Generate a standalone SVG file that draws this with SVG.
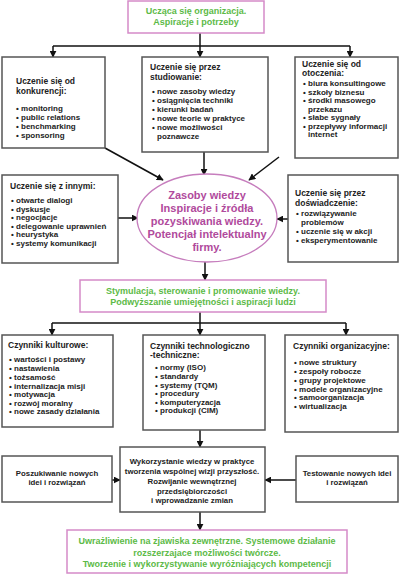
<svg xmlns="http://www.w3.org/2000/svg" width="400" height="575" viewBox="0 0 400 575">
<defs>
<marker id="ah" viewBox="0 0 10 10" refX="9" refY="5" markerWidth="7" markerHeight="7" markerUnits="userSpaceOnUse" orient="auto"><path d="M0,0 L10,5 L0,10 Z" fill="#111"/></marker>
<style>
.box{fill:#fff;stroke:#555;stroke-width:1.5}
.pbox{fill:#fff;stroke:#d58ac8;stroke-width:1.5}
text{font-family:"Liberation Sans",Arial,sans-serif;font-weight:bold}
.g{fill:#5cba47;font-size:9px;text-anchor:middle}
.h{fill:#222;font-size:8.5px}
.i{fill:#222;font-size:8px}
.c{fill:#222;font-size:7.8px;text-anchor:middle}
.p{fill:#b04a9c;font-size:11px;text-anchor:middle}
.ln{stroke:#111;stroke-width:1.5;fill:none}
</style>
</defs>
<rect width="400" height="575" fill="#fff"/>
<g id="connectors">
<path class="ln" d="M200,33 V46"/>
<path class="ln" d="M53,46 H350"/>
<path class="ln" d="M53,46 V57" marker-end="url(#ah)"/>
<path class="ln" d="M200,46 V57" marker-end="url(#ah)"/>
<path class="ln" d="M350,46 V57" marker-end="url(#ah)"/>
<path class="ln" d="M105,148 L163,180" marker-end="url(#ah)"/>
<path class="ln" d="M204,152 V175" marker-end="url(#ah)"/>
<path class="ln" d="M279,157 L249,180" marker-end="url(#ah)"/>
<path class="ln" d="M118,218 H138" marker-end="url(#ah)"/>
<path class="ln" d="M288,219 H277" marker-end="url(#ah)"/>
<path class="ln" d="M205,262 V280" marker-end="url(#ah)"/>
<path class="ln" d="M200,312 V323"/>
<path class="ln" d="M52,323 H346"/>
<path class="ln" d="M52,323 V335" marker-end="url(#ah)"/>
<path class="ln" d="M200,323 V335" marker-end="url(#ah)"/>
<path class="ln" d="M346,323 V335" marker-end="url(#ah)"/>
<path class="ln" d="M200,430 V447" marker-end="url(#ah)"/>
<path class="ln" d="M112,480 H120" marker-end="url(#ah)"/>
<path class="ln" d="M296,480 H265" marker-end="url(#ah)"/>
<path class="ln" d="M200,512 V530" marker-end="url(#ah)"/>
</g>
<g id="top">
<rect class="pbox" x="128" y="1" width="136" height="32"/>
<text class="g" x="196" y="14">Ucząca się organizacja.</text>
<text class="g" x="196" y="25">Aspiracje i potrzeby</text>
</g>
<g id="konkurencja">
<rect class="box" x="2" y="57" width="103" height="91"/>
<text class="h" x="16" y="84">Uczenie się od</text>
<text class="h" x="16" y="94">konkurencji:</text>
<text class="i" x="16" y="111">• monitoring</text>
<text class="i" x="16" y="120">• public relations</text>
<text class="i" x="16" y="129">• benchmarking</text>
<text class="i" x="16" y="138">• sponsoring</text>
</g>
<g id="studiowanie">
<rect class="box" x="142" y="57" width="126" height="95"/>
<text class="h" x="150" y="70">Uczenie się przez</text>
<text class="h" x="150" y="80">studiowanie:</text>
<text class="i" x="152" y="94">• nowe zasoby wiedzy</text>
<text class="i" x="152" y="103">• osiągnięcia techniki</text>
<text class="i" x="152" y="112">• kierunki badań</text>
<text class="i" x="152" y="121">• nowe teorie w praktyce</text>
<text class="i" x="152" y="130">• nowe możliwości</text>
<text class="i" x="157" y="139">poznawcze</text>
</g>
<g id="otoczenie">
<rect class="box" x="295" y="57" width="103" height="101"/>
<text class="h" x="302" y="67">Uczenie się od</text>
<text class="h" x="302" y="76">otoczenia:</text>
<text class="i" x="303" y="86">• biura konsultingowe</text>
<text class="i" x="303" y="94.5">• szkoły biznesu</text>
<text class="i" x="303" y="103">• środki masowego</text>
<text class="i" x="308" y="111.5">przekazu</text>
<text class="i" x="303" y="120">• słabe sygnały</text>
<text class="i" x="303" y="128.5">• przepływy informacji</text>
<text class="i" x="308" y="137">internet</text>
</g>
<g id="inni">
<rect class="box" x="2" y="175" width="116" height="88"/>
<text class="h" x="10" y="189">Uczenie się z innymi:</text>
<text class="i" x="11" y="203">• otwarte dialogi</text>
<text class="i" x="11" y="211.5">• dyskusje</text>
<text class="i" x="11" y="220">• negocjacje</text>
<text class="i" x="11" y="228.5">• delegowanie uprawnień</text>
<text class="i" x="11" y="237">• heurystyka</text>
<text class="i" x="11" y="245.5">• systemy komunikacji</text>
</g>
<g id="zasoby">
<ellipse cx="207" cy="218" rx="70" ry="44" fill="#fff" stroke="#c67dbd" stroke-width="1.3"/>
<text class="p" x="207" y="199">Zasoby wiedzy</text>
<text class="p" x="207" y="212">Inspiracje i źródła</text>
<text class="p" x="207" y="225">pozyskiwania wiedzy.</text>
<text class="p" x="207" y="238">Potencjał intelektualny</text>
<text class="p" x="207" y="251">firmy.</text>
</g>
<g id="doswiadczenie">
<rect class="box" x="288" y="175" width="110" height="87"/>
<text class="h" x="295" y="196">Uczenie się przez</text>
<text class="h" x="295" y="206">doświadczenie:</text>
<text class="i" x="296" y="216">• rozwiązywanie</text>
<text class="i" x="301" y="225">problemów</text>
<text class="i" x="296" y="234">• uczenie się w akcji</text>
<text class="i" x="296" y="243">• eksperymentowanie</text>
</g>
<g id="stymulacja">
<rect class="pbox" x="80" y="280" width="246" height="32"/>
<text class="g" x="203" y="294">Stymulacja, sterowanie i promowanie wiedzy.</text>
<text class="g" x="203" y="305">Podwyższanie umiejętności i aspiracji ludzi</text>
</g>
<g id="kulturowe">
<rect class="box" x="2" y="335" width="111" height="92"/>
<text class="h" x="8" y="348">Czynniki kulturowe:</text>
<text class="i" x="9" y="362">• wartości i postawy</text>
<text class="i" x="9" y="371">• nastawienia</text>
<text class="i" x="9" y="380">• tożsamość</text>
<text class="i" x="9" y="388.5">• internalizacja misji</text>
<text class="i" x="9" y="397">• motywacja</text>
<text class="i" x="9" y="405.5">• rozwój moralny</text>
<text class="i" x="9" y="414">• nowe zasady działania</text>
</g>
<g id="technologiczne">
<rect class="box" x="143" y="335" width="122" height="95"/>
<text class="h" x="150" y="349">Czynniki technologiczno</text>
<text class="h" x="150" y="358">-techniczne:</text>
<text class="i" x="155" y="370">• normy (ISO)</text>
<text class="i" x="155" y="379">• standardy</text>
<text class="i" x="155" y="387.5">• systemy (TQM)</text>
<text class="i" x="155" y="396">• procedury</text>
<text class="i" x="155" y="404.5">• komputeryzacja</text>
<text class="i" x="155" y="413">• produkcji (CIM)</text>
</g>
<g id="organizacyjne">
<rect class="box" x="285" y="335" width="113" height="97"/>
<text class="h" x="293" y="349">Czynniki organizacyjne:</text>
<text class="i" x="294" y="365">• nowe struktury</text>
<text class="i" x="294" y="374">• zespoły robocze</text>
<text class="i" x="294" y="383">• grupy projektowe</text>
<text class="i" x="294" y="391.5">• modele organizacyjne</text>
<text class="i" x="294" y="400">• samoorganizacja</text>
<text class="i" x="294" y="408.5">• wirtualizacja</text>
</g>
<g id="poszukiwanie">
<rect class="box" x="2" y="456" width="110" height="46"/>
<text class="c" x="57" y="476">Poszukiwanie nowych</text>
<text class="c" x="57" y="485">idei i rozwiązań</text>
</g>
<g id="wykorzystanie">
<rect class="box" x="120" y="447" width="145" height="65"/>
<text class="c" x="192" y="464">Wykorzystanie wiedzy w praktyce</text>
<text class="c" x="192" y="474">tworzenia wspólnej wizji przyszłość.</text>
<text class="c" x="192" y="484">Rozwijanie wewnętrznej</text>
<text class="c" x="192" y="494">przedsiębiorczości</text>
<text class="c" x="192" y="503">i wprowadzanie zmian</text>
</g>
<g id="testowanie">
<rect class="box" x="296" y="456" width="102" height="46"/>
<text class="c" x="347" y="476">Testowanie nowych idei</text>
<text class="c" x="347" y="485">i rozwiązań</text>
</g>
<g id="bottom">
<rect class="pbox" x="67" y="530" width="280" height="43"/>
<text class="g" x="207" y="544">Uwrażliwienie na zjawiska zewnętrzne. Systemowe działanie</text>
<text class="g" x="207" y="556">rozszerzajace możliwości twórcze.</text>
<text class="g" x="207" y="567">Tworzenie i wykorzystywanie wyróżniających kompetencji</text>
</g>
</svg>
